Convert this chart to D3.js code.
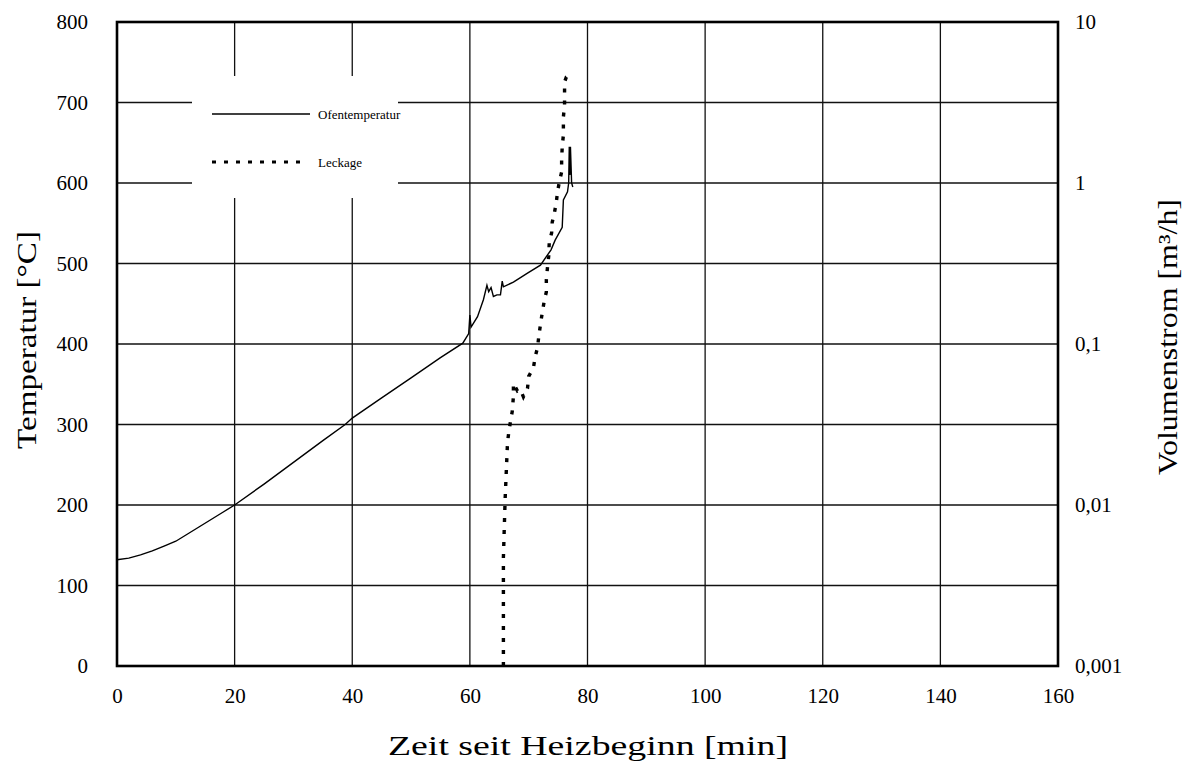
<!DOCTYPE html>
<html><head><meta charset="utf-8">
<script src="https://cdn.jsdelivr.net/npm/d3@7"></script>
<style>body{margin:0;background:#fff}svg{display:block}</style>
</head><body>
<svg id="c" width="1191" height="775"></svg>
<script>
const xTicks=[0,20,40,60,80,100,120,140,160];
const yTicks=[0,100,200,300,400,500,600,700,800];
const y2Ticks=[0.001,0.01,0.1,1,10];
const y2Labels=["0,001","0,01","0,1","1","10"];
const tempTime=[0,2,4,6,8,10,12,14,16,18,20,25,30,35,38.8,40,45,50,55,58.8,59.8,60,60.2,61.3,62.3,62.9,63.2,63.6,64,64.6,65.2,65.5,65.7,67.4,69.8,72,73.8,74.5,75.7,75.9,76.6,76.8,76.9,77.0,77.1,77.3,77.5];
const tempVal=[132,134,138,143,149,155,164,173,182,191,200,226,253,280,300,308,333,358,383,401,413,436,421,434,455,473,465,470,459,461,461,478,471,477,488,498,517,529,545,579,589,600,645,610,645,600,595];
const leakTime=[65.7,65.7,66.0,66.4,66.6,66.9,67.2,67.4,67.4,68.1,68.6,69.1,69.8,70.0,70.8,71.1,71.5,71.7,72.0,72.3,72.7,73.0,73.0,73.2,73.4,73.5,73.9,74.0,74.4,74.7,74.9,75.2,75.6,75.6,75.7,75.9,75.9,76.1,76.1,76.1,76.4,76.9,77.3];
const leakVal=[0.001,0.0047,0.011,0.0245,0.028,0.033,0.038,0.047,0.057,0.051,0.052,0.047,0.053,0.063,0.071,0.083,0.095,0.11,0.132,0.156,0.19,0.21,0.25,0.30,0.35,0.43,0.49,0.57,0.66,0.76,0.88,1.01,1.17,1.39,1.67,1.99,2.57,3.05,3.78,4.24,4.55,4.69,4.75];
const legendLabels=["Ofentemperatur","Leckage"];

const svg=d3.select("#c");
const L=117,R=1058,T=22,B=666;
const x=d3.scaleLinear().domain([0,160]).range([L,R]);
const y=d3.scaleLinear().domain([0,800]).range([B,T]);
const y2=d3.scaleLog().domain([0.001,10]).range([B,T]);
const font="'Liberation Serif','Times New Roman',serif";

// grid
const g=svg.append("g");
g.selectAll("line.vx").data(xTicks.slice(1,-1)).enter().append("line")
 .attr("x1",d=>x(d)).attr("x2",d=>x(d)).attr("y1",T).attr("y2",B)
 .attr("stroke","#111").attr("stroke-width",1.3);
g.selectAll("line.hy").data(yTicks.slice(1,-1)).enter().append("line")
 .attr("x1",L).attr("x2",R).attr("y1",d=>y(d)).attr("y2",d=>y(d))
 .attr("stroke","#111").attr("stroke-width",1.3);

// legend box (white, covers grid)
svg.append("rect").attr("x",192).attr("y",76).attr("width",206).attr("height",122).attr("fill","#fff");

// data
const temp=tempTime.map((t,i)=>[t,tempVal[i]]);
const leak=leakTime.map((t,i)=>[t,leakVal[i]]);
svg.append("path").datum(temp).attr("fill","none").attr("stroke","#000").attr("stroke-width",1.4)
 .attr("d",d3.line().x(d=>x(d[0])).y(d=>y(d[1])));
svg.append("path").datum(leak).attr("fill","none").attr("stroke","#000").attr("stroke-width",3.4)
 .attr("stroke-dasharray","4,8")
 .attr("d",d3.line().x(d=>x(d[0])).y(d=>y2(d[1])));

// frame
svg.append("rect").attr("x",L).attr("y",T).attr("width",R-L).attr("height",B-T)
 .attr("fill","none").attr("stroke","#000").attr("stroke-width",2.6);

// axes
const ax=svg.append("g").attr("transform",`translate(0,${B})`)
 .call(d3.axisBottom(x).tickValues(xTicks).tickSize(0).tickPadding(22));
const ay=svg.append("g").attr("transform",`translate(${L},0)`)
 .call(d3.axisLeft(y).tickValues(yTicks).tickSize(0).tickPadding(29));
const ay2=svg.append("g").attr("transform",`translate(${R},0)`)
 .call(d3.axisRight(y2).tickValues(y2Ticks).tickFormat((d,i)=>y2Labels[i]).tickSize(0).tickPadding(17));
[ax,ay,ay2].forEach(a=>{a.select(".domain").remove();a.selectAll("text").attr("font-family",font).attr("font-size",21).attr("fill","#000");});

// titles
svg.append("text").attr("x",588).attr("y",755).attr("text-anchor","middle")
 .attr("font-family",font).attr("font-size",27).attr("textLength",400).attr("lengthAdjust","spacingAndGlyphs").text("Zeit seit Heizbeginn [min]");
svg.append("text").attr("transform",`translate(36,${340}) rotate(-90)`).attr("text-anchor","middle")
 .attr("font-family",font).attr("font-size",27).attr("textLength",218).attr("lengthAdjust","spacingAndGlyphs").text("Temperatur [°C]");
svg.append("text").attr("transform",`translate(1177,${337}) rotate(-90)`).attr("text-anchor","middle")
 .attr("font-family",font).attr("font-size",27).attr("textLength",276).attr("lengthAdjust","spacingAndGlyphs").text("Volumenstrom [m³/h]");

// legend
svg.append("line").attr("x1",212).attr("x2",310).attr("y1",114).attr("y2",114).attr("stroke","#000").attr("stroke-width",1.3);
svg.append("line").attr("x1",212).attr("x2",306).attr("y1",162).attr("y2",162).attr("stroke","#000").attr("stroke-width",3.2).attr("stroke-dasharray","4,8");
svg.append("text").attr("x",318).attr("y",119).attr("font-family",font).attr("font-size",13).text(legendLabels[0]);
svg.append("text").attr("x",318).attr("y",167).attr("font-family",font).attr("font-size",13).text(legendLabels[1]);
</script>
</body></html>
